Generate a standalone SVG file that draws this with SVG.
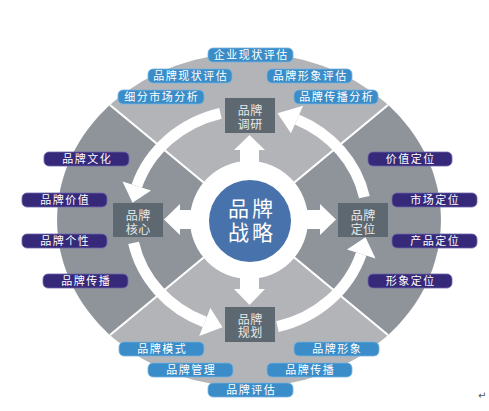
<svg xmlns="http://www.w3.org/2000/svg" width="489" height="411" viewBox="0 0 489 411">
<style>
.bg{fill:#ffffff}
.light{fill:#b2b4b8}
.dark{fill:#8f949b}
.div{stroke:#ffffff;stroke-width:2.2;fill:none}
.band{stroke:#ffffff;stroke-width:11;fill:none}
.wh{fill:#ffffff}
.box{fill:#5e6870}
.boxt{font-family:"Noto Sans CJK SC","Noto Sans",sans-serif;font-size:12px;fill:#e6e9eb;text-anchor:middle;letter-spacing:0.5px}
.pb{fill:#3a8dc8;stroke:#78b3de;stroke-width:0.8}
.pp{fill:#36297a;stroke:#6d64a8;stroke-width:0.8}
.pt{font-family:"Noto Sans CJK SC","Noto Sans",sans-serif;font-size:11px;fill:#ffffff;text-anchor:middle;letter-spacing:1.5px}
.ct{font-family:"Noto Sans CJK SC","Noto Sans",sans-serif;font-size:21px;fill:#ffffff;text-anchor:middle;letter-spacing:3px}
</style>
<rect class="bg" x="0" y="0" width="489" height="411"/>
<g id="backdrop">
  <ellipse class="light" cx="249" cy="220" rx="192" ry="167"/>
  <path class="dark" d="M249,220 L110,105 A192,167 0 0,0 110,335 Z"/>
  <path class="dark" d="M249,220 L388,105 A192,167 0 0,1 388,335 Z"/>
  <line class="div" x1="249" y1="220" x2="110" y2="105"/>
  <line class="div" x1="249" y1="220" x2="388" y2="105"/>
  <line class="div" x1="249" y1="220" x2="110" y2="335"/>
  <line class="div" x1="249" y1="220" x2="388" y2="335"/>
</g>
<g id="connectors">
  <path class="band" d="M364.4,197.1 A118,110 0 0,0 297.0,119.5"/>
  <polygon class="wh" points="303.1,105.8 290.9,133.2 277.5,113.3"/>
  <path class="band" d="M220.5,113.3 A118,110 0 0,0 136.8,186.0"/>
  <polygon class="wh" points="122.5,181.4 151.0,190.6 132.5,202.8"/>
  <path class="band" d="M133.6,242.9 A118,110 0 0,0 204.8,322.0"/>
  <polygon class="wh" points="199.2,335.9 210.4,308.1 222.5,327.2"/>
  <path class="band" d="M277.5,326.7 A118,110 0 0,0 361.2,254.0"/>
  <polygon class="wh" points="375.5,258.6 347.0,249.4 365.5,237.2"/>
  <polygon class="wh" points="240,168 240,150 234,150 249.5,135 265,150 259,150 259,168"/>
  <polygon class="wh" points="240,272 240,289 234,289 249.5,305 265,289 259,289 259,272"/>
  <polygon class="wh" points="198,210 180,210 180,204 164,219.5 180,235 180,229 198,229"/>
  <polygon class="wh" points="300,210 320,210 320,204 336,219.5 320,235 320,229 300,229"/>
</g>
<g id="center">
  <circle class="wh" cx="249" cy="220" r="59"/>
  <circle cx="250" cy="221" r="41" fill="#4772ab"/>
  <text class="ct" x="252" y="216">品牌<tspan x="252" dy="24">战略</tspan></text>
</g>
<g id="node-research">
  <rect class="box" x="225" y="98" width="50" height="35"/>
  <text class="boxt" x="250.3" y="115">品牌<tspan x="250.3" dy="13.5">调研</tspan></text>
</g>
<g id="node-core">
  <rect class="box" x="113" y="203" width="50" height="34"/>
  <text class="boxt" x="138.3" y="220">品牌<tspan x="138.3" dy="13.5">核心</tspan></text>
</g>
<g id="node-position">
  <rect class="box" x="338" y="203" width="50" height="34"/>
  <text class="boxt" x="363.3" y="220">品牌<tspan x="363.3" dy="13.5">定位</tspan></text>
</g>
<g id="node-plan">
  <rect class="box" x="225" y="307" width="50" height="35"/>
  <text class="boxt" x="250.3" y="323.5">品牌<tspan x="250.3" dy="13.5">规划</tspan></text>
</g>
<g id="label-qiyexianzhuang"><rect class="pb" x="208" y="48" width="85" height="14" rx="5"/><text class="pt" x="251.3" y="59">企业现状评估</text></g>
<g id="label-pinpaixianzhuang"><rect class="pb" x="148" y="69" width="84" height="14" rx="5"/><text class="pt" x="190.8" y="80">品牌现状评估</text></g>
<g id="label-xingxiangpinggu"><rect class="pb" x="267" y="69" width="85" height="14" rx="5"/><text class="pt" x="310.3" y="80">品牌形象评估</text></g>
<g id="label-xifenshichang"><rect class="pb" x="118" y="90" width="86" height="14" rx="5"/><text class="pt" x="161.8" y="101">细分市场分析</text></g>
<g id="label-chuanbofenxi"><rect class="pb" x="294" y="90" width="84" height="14" rx="5"/><text class="pt" x="336.8" y="101">品牌传播分析</text></g>
<g id="label-moshi"><rect class="pb" x="119" y="342" width="85" height="14" rx="5"/><text class="pt" x="162.3" y="353">品牌模式</text></g>
<g id="label-xingxiang"><rect class="pb" x="294" y="342" width="85" height="14" rx="5"/><text class="pt" x="337.3" y="353">品牌形象</text></g>
<g id="label-guanli"><rect class="pb" x="148" y="363" width="85" height="14" rx="5"/><text class="pt" x="191.3" y="374">品牌管理</text></g>
<g id="label-chuanbo-b"><rect class="pb" x="267" y="363" width="85" height="14" rx="5"/><text class="pt" x="310.3" y="374">品牌传播</text></g>
<g id="label-pinggu"><rect class="pb" x="208" y="383" width="85" height="14" rx="5"/><text class="pt" x="251.3" y="394">品牌评估</text></g>
<g id="label-wenhua"><rect class="pp" x="44" y="152" width="85" height="14" rx="5"/><text class="pt" x="87.3" y="163">品牌文化</text></g>
<g id="label-jiazhi"><rect class="pp" x="22" y="193" width="85" height="14" rx="5"/><text class="pt" x="65.3" y="204">品牌价值</text></g>
<g id="label-gexing"><rect class="pp" x="22" y="234" width="85" height="14" rx="5"/><text class="pt" x="65.3" y="245">品牌个性</text></g>
<g id="label-chuanbo-l"><rect class="pp" x="43" y="274" width="85" height="14" rx="5"/><text class="pt" x="86.3" y="285">品牌传播</text></g>
<g id="label-jiazhidingwei"><rect class="pp" x="368" y="152" width="84" height="14" rx="5"/><text class="pt" x="410.8" y="163">价值定位</text></g>
<g id="label-shichang"><rect class="pp" x="392" y="193" width="85" height="14" rx="5"/><text class="pt" x="435.3" y="204">市场定位</text></g>
<g id="label-chanpin"><rect class="pp" x="392" y="234" width="85" height="14" rx="5"/><text class="pt" x="435.3" y="245">产品定位</text></g>
<g id="label-xingxiangdingwei"><rect class="pp" x="368" y="274" width="84" height="14" rx="5"/><text class="pt" x="410.8" y="285">形象定位</text></g>
<text x="478" y="399" font-family="DejaVu Sans, sans-serif" font-size="10" fill="#555555">↵</text>
</svg>
